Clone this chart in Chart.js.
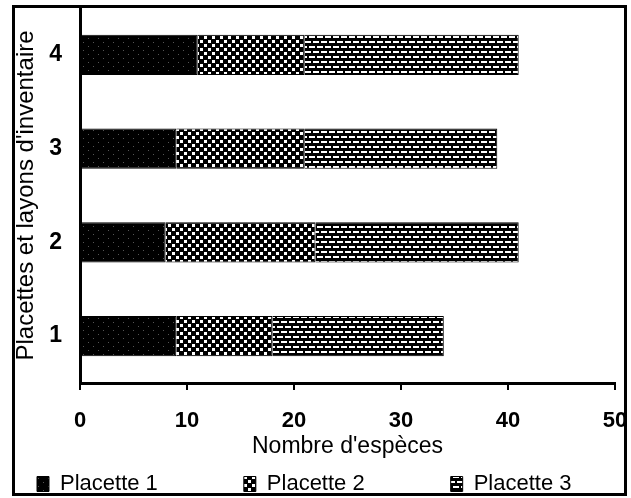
<!DOCTYPE html>
<html lang="fr">
<head>
<meta charset="utf-8">
<title>Nombre d'espèces par placette</title>
<script src="https://cdn.jsdelivr.net/npm/chart.js@4.4.0/dist/chart.umd.min.js"></script>
<style>
    html, body { margin: 0; padding: 0; background: #fff; overflow: hidden; }
    #wrap { position: relative; width: 631px; height: 498px; }
</style>
</head>
<body>
<div id="wrap"><canvas id="chart"></canvas></div>
<script>
// --- Data ---
const layons = ['1', '2', '3', '4'];
const placette1 = [9, 8, 9, 11];
const placette2 = [9, 14, 12, 10];
const placette3 = [16, 19, 18, 20];
const xTicks = [0, 10, 20, 30, 40, 50];

const canvas = document.getElementById('chart');
const ctx = canvas.getContext('2d');

// --- Black & white fill patterns (old printer style) ---
function makePattern(w, h, draw) {
    const c = document.createElement('canvas');
    c.width = w;
    c.height = h;
    const g = c.getContext('2d');
    g.fillStyle = '#000';
    g.fillRect(0, 0, w, h);
    draw(g);
    return ctx.createPattern(c, 'repeat');
}

// Placette 1: nearly solid black, a few grey specks
const solidFill = makePattern(10, 8, g => {
    g.fillStyle = '#555';
    g.fillRect(3, 2, 1, 1);
    g.fillRect(8, 6, 1, 1);
});

// Placette 2: dotted checker
const checkFill = makePattern(8, 8, g => {
    g.fillStyle = '#fff';
    g.fillRect(0, 0, 3, 3);
    g.fillRect(4, 4, 3, 3);
});

// Placette 3: brick of short white dashes
const brickFill = makePattern(16, 10, g => {
    g.fillStyle = '#fff';
    g.fillRect(1, 1, 6, 2);
    g.fillRect(9, 1, 6, 2);
    g.fillRect(5, 6, 6, 2);
    g.fillRect(13, 6, 3, 2);
    g.fillRect(0, 6, 3, 2);
});

// --- Legend placement: items spread along the bottom of the frame ---
const LEGEND_X = 37;
const LEGEND_Y = 473;
const legendSpot = {
    id: 'legendSpot',
    beforeLayout(chart) {
        const lg = chart.legend;
        if (lg && !lg._patched) {
            const fit = lg.fit;
            lg.fit = function () {
                fit.call(this);
                this.height = 33;
            };
            lg._patched = true;
        }
    },
    afterLayout(chart) {
        const lg = chart.legend;
        const pad = lg.options.labels.padding;
        lg.left = LEGEND_X - pad;
        lg.right = chart.width + 1000;
        lg.top = LEGEND_Y - pad;
        lg.bottom = chart.height;
    }
};

// --- Outer frame ---
const framePlugin = {
    id: 'frame',
    afterDraw(chart) {
        const c = chart.ctx;
        c.save();
        c.strokeStyle = '#000';
        c.lineWidth = 3;
        c.strokeRect(13.5, 6.5, 612, 488);
        c.restore();
    }
};

Chart.defaults.font.family = "'Liberation Sans', Arial, sans-serif";
Chart.defaults.color = '#000';

new Chart(canvas, {
    type: 'bar',
    data: {
        labels: layons,
        datasets: [
            {
                label: 'Placette 1',
                data: placette1,
                backgroundColor: solidFill,
                borderColor: '#000',
                borderWidth: 1
            },
            {
                label: 'Placette 2',
                data: placette2,
                backgroundColor: checkFill,
                borderColor: '#000',
                borderWidth: 1
            },
            {
                label: 'Placette 3',
                data: placette3,
                backgroundColor: brickFill,
                borderColor: '#000',
                borderWidth: 1
            }
        ]
    },
    options: {
        indexAxis: 'y',
        responsive: true,
        maintainAspectRatio: false,
        animation: false,
        barPercentage: 0.43,
        categoryPercentage: 1,
        layout: { padding: { top: 8, right: 16, left: 0, bottom: 0 } },
        plugins: {
            legend: {
                position: 'bottom',
                align: 'start',
                labels: {
                    boxWidth: 12,
                    boxHeight: 15,
                    padding: 86,
                    color: '#000',
                    font: { size: 22 }
                }
            },
            tooltip: { enabled: false }
        },
        scales: {
            x: {
                stacked: true,
                min: xTicks[0],
                max: xTicks[xTicks.length - 1],
                ticks: {
                    stepSize: xTicks[1] - xTicks[0],
                    padding: 18,
                    color: '#000',
                    font: { size: 22, weight: 'bold' }
                },
                grid: {
                    drawOnChartArea: false,
                    drawTicks: true,
                    tickLength: 7,
                    lineWidth: 2,
                    color: '#000'
                },
                border: { display: true, width: 3, color: '#000' },
                title: {
                    display: true,
                    text: "Nombre d'espèces",
                    color: '#000',
                    font: { size: 23 },
                    padding: { top: 0, bottom: 5 }
                },
                afterFit: scale => {
                    scale.height = 82;
                    scale.paddingLeft = 0;
                    scale.paddingRight = 0;
                }
            },
            y: {
                stacked: true,
                reverse: true,
                grid: { display: false, drawTicks: false },
                border: { display: true, width: 3, color: '#000' },
                ticks: {
                    padding: 18,
                    color: '#000',
                    font: { size: 23, weight: 'bold' }
                },
                title: {
                    display: true,
                    text: "Placettes et layons d'inventaire",
                    color: '#000',
                    font: { size: 24 },
                    padding: { top: 12, bottom: 0 }
                },
                afterFit: scale => {
                    scale.width = 80;
                    scale.paddingTop = 0;
                    scale.paddingBottom = 0;
                }
            }
        }
    },
    plugins: [legendSpot, framePlugin]
});
</script>
</body>
</html>
